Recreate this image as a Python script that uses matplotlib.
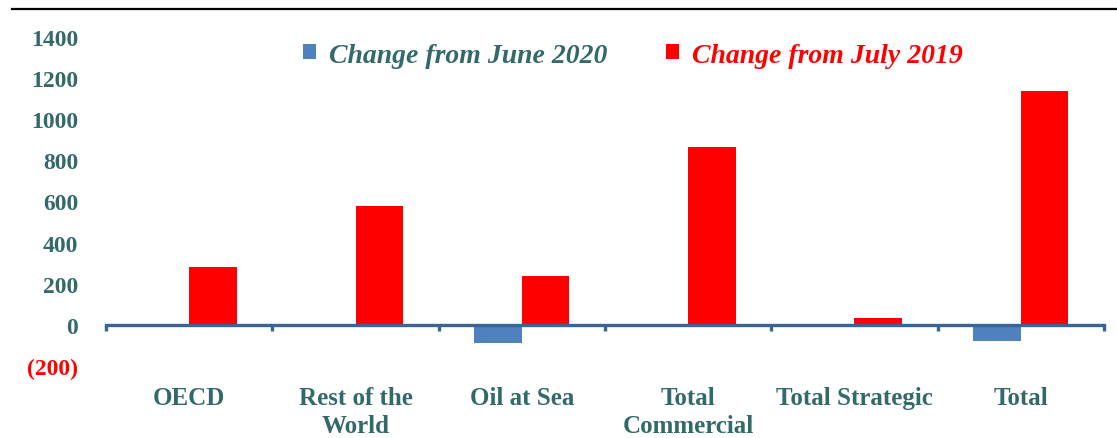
import matplotlib.pyplot as plt
import numpy as np
from matplotlib.patches import Patch
from matplotlib.lines import Line2D

# --- DATA ---
categories = ["OECD", "Rest of the\nWorld", "Oil at Sea", "Total\nCommercial",
              "Total Strategic", "Total"]
change_june_2020 = [0, 0, -88, 0, 0, -78]
change_july_2019 = [283, 576, 239, 863, 32, 1137]
y_ticks = [-200, 0, 200, 400, 600, 800, 1000, 1200, 1400]
y_tick_labels = ["(200)", "0", "200", "400", "600", "800", "1000", "1200", "1400"]

TEAL = "#336A69"
BLUE = "#4F81BD"
RED = "#FF0000"
AXIS_BLUE = "#3A6494"

plt.rcParams['font.family'] = ['Liberation Serif', 'DejaVu Serif']

fig = plt.figure(figsize=(11.17, 4.39), dpi=100)
ax = fig.add_axes([106 / 1117, 1 - 367 / 439, (1104 - 106) / 1117, (367 - 38) / 439])

x = np.arange(len(categories))
w = 0.285
ax.bar(x - w / 2, change_june_2020, width=w, color=BLUE, zorder=2)
ax.bar(x + w / 2, change_july_2019, width=w, color=RED, zorder=2)

ax.set_xlim(-0.5, len(categories) - 0.5)
ax.set_ylim(-200, 1400)

# zero axis line with tick marks at category boundaries
for s in ['left', 'right', 'top']:
    ax.spines[s].set_visible(False)
ax.spines['bottom'].set_position(('data', 0))
ax.spines['bottom'].set_color(AXIS_BLUE)
ax.spines['bottom'].set_linewidth(2.4)
ax.spines['bottom'].set_zorder(3)
ax.set_xticks(np.arange(-0.5, len(categories), 1.0))
ax.set_xticklabels([])
ax.tick_params(axis='x', direction='out', length=4, width=2.4, color=AXIS_BLUE)

ax.set_yticks(y_ticks)
ax.set_yticklabels(y_tick_labels)
ax.tick_params(axis='y', length=0, pad=20, labelsize=17, labelcolor=TEAL)
for lbl in ax.get_yticklabels():
    lbl.set_fontweight('bold')
    if lbl.get_text().startswith('('):
        lbl.set_color(RED)

# category labels under the chart
for xi, name in zip(x, categories):
    ax.text(xi, -0.06, name, transform=ax.get_xaxis_transform(), ha='center', va='top',
            fontsize=18, fontweight='bold', color=TEAL, linespacing=1.3, clip_on=False)

# legend
handles = [Patch(facecolor=BLUE, edgecolor='none'), Patch(facecolor=RED, edgecolor='none')]
leg = ax.legend(handles, ["Change from June 2020", "Change from July 2019"], ncol=2,
                loc='center', bbox_to_anchor=(0.5276, 0.945), frameon=False,
                prop={'size': 20, 'weight': 'bold', 'style': 'italic'},
                handlelength=0.47, handleheight=0.47, handletextpad=0.47, columnspacing=2.1,
                borderpad=0.2)
for txt, c in zip(leg.get_texts(), [TEAL, RED]):
    txt.set_color(c)

# top rule across the figure
fig.add_artist(Line2D([12 / 1117, 1.0], [1 - 10 / 439, 1 - 10 / 439], color='black', linewidth=1.6))

fig.savefig("out.png", dpi=100)
